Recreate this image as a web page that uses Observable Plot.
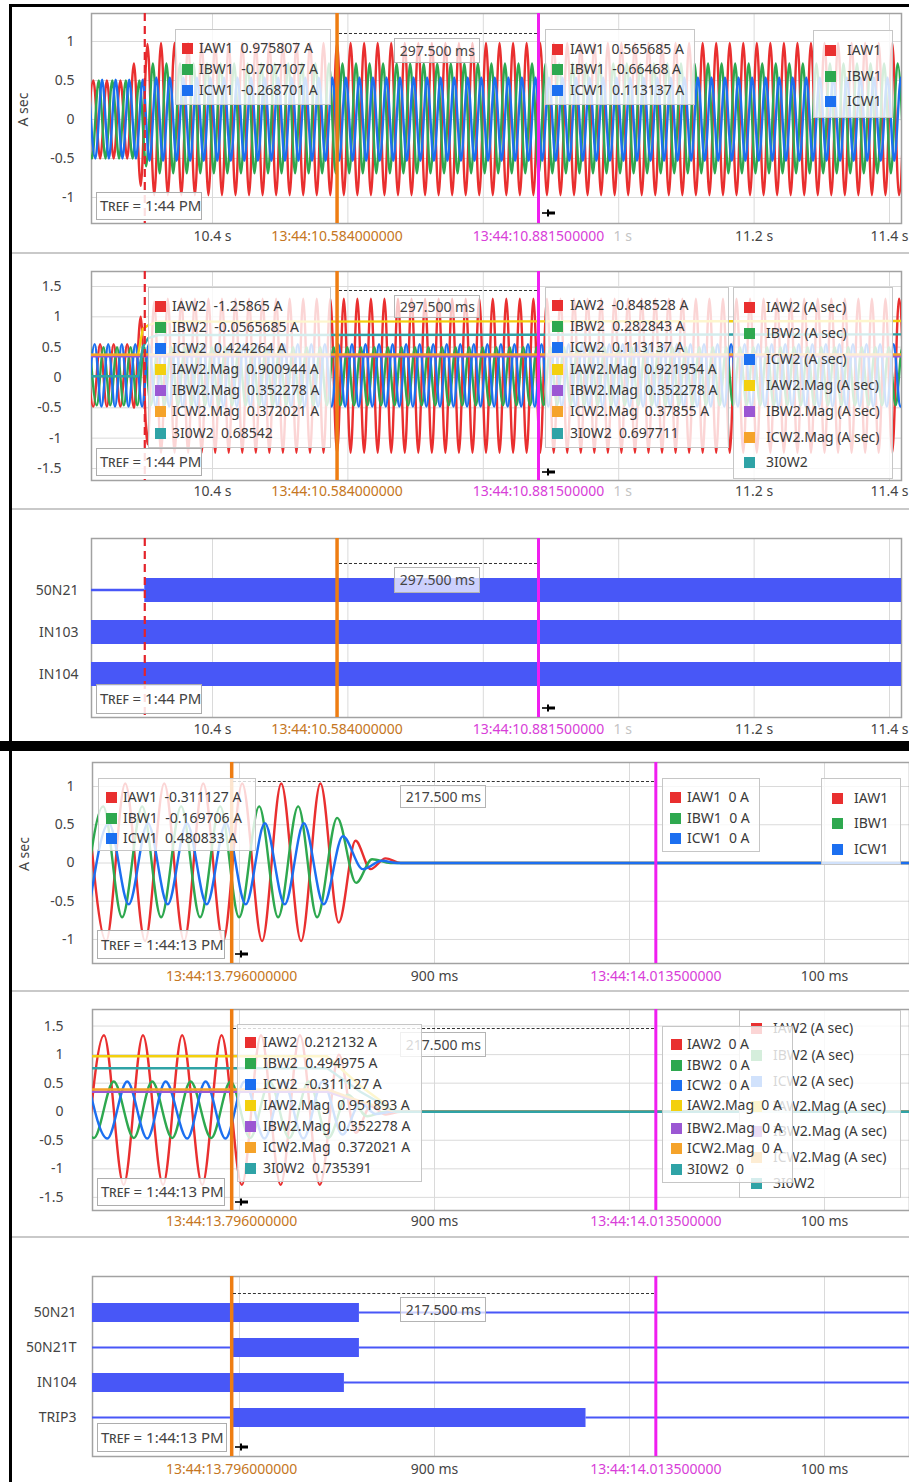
<!DOCTYPE html>
<html>
<head>
<meta charset="utf-8">
<script src="https://cdn.jsdelivr.net/npm/d3@7"></script>
<script src="https://cdn.jsdelivr.net/npm/@observablehq/plot@0.6"></script>
<style>
html,body{margin:0;padding:0;background:#fff;}
#page{position:relative;width:909px;height:1482px;overflow:hidden;background:#fff;font-family:'Noto Sans','Open Sans',sans-serif;color:#3a3a3a;}
#page > svg{position:absolute;left:0;overflow:visible;}
.ov{position:absolute;box-sizing:border-box;}
.lg{background:rgba(255,255,255,0.8);border:1px solid #c6c6c6;}
.sw{position:absolute;width:11px;height:11px;}
.lt{position:absolute;white-space:pre;font-size:14px;line-height:20px;height:20px;color:#3a3a3a;}
.tref{background:rgba(255,255,255,0.85);border:1.5px solid #adadad;font-size:15px;color:#444;white-space:pre;padding-left:3px;}
.meas{background:rgba(255,255,255,0.72);border:1px solid #b4b4b4;font-size:14px;color:#444;text-align:center;white-space:pre;}
.dot{border-top:1px dashed #333;height:0;}
.blk{background:#000;}
.sep{background:#c9c9c9;}
</style>
</head>
<body>
<div id="page"></div>
<script>
// ---------- colours ----------
const FONT = "'Noto Sans','Open Sans',sans-serif";
const C = {red:"#e92f2f", green:"#2ea84f", blue:"#1c6ff0", yellow:"#f3d00e", purple:"#9b57d3", orange:"#f5a32a", teal:"#2fa3a6"};
const CUR = {fault:"#e4232a", orange:"#ee7d12", magenta:"#f01ef0", orangeText:"#c57622", magentaText:"#d83ed8"};
const BAR = "#4857f7";
const GRID = "#dadada";
const FRAME = "#a2a2a2";

// ---------- top record (13:44:10) ----------
const topDomain = [10.2213, 11.4177];
const topGrid = [10.4, 10.6, 10.8, 11.0, 11.2, 11.4];
const topTickLabels = [{t:10.4, label:"10.4 s"}, {t:11.2, label:"11.2 s"}, {t:11.4, label:"11.4 s"}];
const topFadedLabels = [{t:11.0, label:"1 s"}];
const topCursors = [{t:10.584, label:"13:44:10.584000000"}, {t:10.8815, label:"13:44:10.881500000"}];
const topFault = 10.30;

// half-cycle instants (s) of the 50 Hz waveforms, with per-channel lag (s)
const topHalfCycles = [
10.21,10.22,10.23,10.24,10.25,10.26,10.27,10.28,10.29,10.30,
10.31,10.32,10.33,10.34,10.35,10.36,10.37,10.38,10.39,10.40,
10.41,10.42,10.43,10.44,10.45,10.46,10.47,10.48,10.49,10.50,
10.51,10.52,10.53,10.54,10.55,10.56,10.57,10.58,10.59,10.60,
10.61,10.62,10.63,10.64,10.65,10.66,10.67,10.68,10.69,10.70,
10.71,10.72,10.73,10.74,10.75,10.76,10.77,10.78,10.79,10.80,
10.81,10.82,10.83,10.84,10.85,10.86,10.87,10.88,10.89,10.90,
10.91,10.92,10.93,10.94,10.95,10.96,10.97,10.98,10.99,11.00,
11.01,11.02,11.03,11.04,11.05,11.06,11.07,11.08,11.09,11.10,
11.11,11.12,11.13,11.14,11.15,11.16,11.17,11.18,11.19,11.20,
11.21,11.22,11.23,11.24,11.25,11.26,11.27,11.28,11.29,11.30,
11.31,11.32,11.33,11.34,11.35,11.36,11.37,11.38,11.39,11.40,
11.41,11.42];
const topLag = {IAW1:0.004, IBW1:0.002, ICW1:0.007, IAW2:0.004, IBW2:0.009, ICW2:0.006};

// peak values (A sec) at each half cycle
const IAW1_top = [
-0.5,0.5,-0.5,0.5,-0.5,0.5,-0.5,0.72,-0.85,0.97,
-0.97,0.98,-0.97,0.98,-0.97,0.98,-0.97,0.98,-0.97,0.98,
-0.97,0.98,-0.97,0.98,-0.97,0.98,-0.97,0.98,-0.97,0.98,
-0.97,0.98,-0.97,0.98,-0.97,0.98,-0.97,0.98,-0.97,0.98,
-0.97,0.98,-0.97,0.98,-0.97,0.98,-0.97,0.98,-0.97,0.98,
-0.97,0.98,-0.97,0.98,-0.97,0.98,-0.97,0.98,-0.97,0.98,
-0.97,0.98,-0.97,0.98,-0.97,0.98,-0.97,0.98,-0.97,0.98,
-0.97,0.98,-0.97,0.98,-0.97,0.98,-0.97,0.98,-0.97,0.98,
-0.97,0.98,-0.97,0.98,-0.97,0.98,-0.97,0.98,-0.97,0.98,
-0.97,0.98,-0.97,0.98,-0.97,0.98,-0.97,0.98,-0.97,0.98,
-0.97,0.98,-0.97,0.98,-0.97,0.98,-0.97,0.98,-0.97,0.98,
-0.97,0.98,-0.97,0.98,-0.97,0.98,-0.97,0.98,-0.97,0.98,
-0.97,0.98];
const IBW1_top = [
0.5,-0.5,0.5,-0.5,0.5,-0.5,0.5,-0.5,0.5,-0.6,
0.72,-0.69,0.72,-0.69,0.72,-0.69,0.72,-0.69,0.72,-0.69,
0.72,-0.69,0.72,-0.69,0.72,-0.69,0.72,-0.69,0.72,-0.69,
0.72,-0.69,0.72,-0.69,0.72,-0.69,0.72,-0.69,0.72,-0.69,
0.72,-0.69,0.72,-0.69,0.72,-0.69,0.72,-0.69,0.72,-0.69,
0.72,-0.69,0.72,-0.69,0.72,-0.69,0.72,-0.69,0.72,-0.69,
0.72,-0.69,0.72,-0.69,0.72,-0.69,0.72,-0.69,0.72,-0.69,
0.72,-0.69,0.72,-0.69,0.72,-0.69,0.72,-0.69,0.72,-0.69,
0.72,-0.69,0.72,-0.69,0.72,-0.69,0.72,-0.69,0.72,-0.69,
0.72,-0.69,0.72,-0.69,0.72,-0.69,0.72,-0.69,0.72,-0.69,
0.72,-0.69,0.72,-0.69,0.72,-0.69,0.72,-0.69,0.72,-0.69,
0.72,-0.69,0.72,-0.69,0.72,-0.69,0.72,-0.69,0.72,-0.69,
0.72,-0.69];
const ICW1_top = [
0.51,-0.5,0.51,-0.5,0.51,-0.5,0.51,-0.5,0.51,-0.53,
0.54,-0.53,0.54,-0.53,0.54,-0.53,0.54,-0.53,0.54,-0.53,
0.54,-0.53,0.54,-0.53,0.54,-0.53,0.54,-0.53,0.54,-0.53,
0.54,-0.53,0.54,-0.53,0.54,-0.53,0.54,-0.53,0.54,-0.53,
0.54,-0.53,0.54,-0.53,0.54,-0.53,0.54,-0.53,0.54,-0.53,
0.54,-0.53,0.54,-0.53,0.54,-0.53,0.54,-0.53,0.54,-0.53,
0.54,-0.53,0.54,-0.53,0.54,-0.53,0.54,-0.53,0.54,-0.53,
0.54,-0.53,0.54,-0.53,0.54,-0.53,0.54,-0.53,0.54,-0.53,
0.54,-0.53,0.54,-0.53,0.54,-0.53,0.54,-0.53,0.54,-0.53,
0.54,-0.53,0.54,-0.53,0.54,-0.53,0.54,-0.53,0.54,-0.53,
0.54,-0.53,0.54,-0.53,0.54,-0.53,0.54,-0.53,0.54,-0.53,
0.54,-0.53,0.54,-0.53,0.54,-0.53,0.54,-0.53,0.54,-0.53,
0.54,-0.53];
const IAW2_top = [
0.55,-0.48,0.55,-0.48,0.55,-0.48,0.55,-0.5,1.0,-1.1,
1.25,-1.24,1.3,-1.24,1.3,-1.24,1.3,-1.24,1.3,-1.24,
1.3,-1.24,1.3,-1.24,1.3,-1.24,1.3,-1.24,1.3,-1.24,
1.3,-1.24,1.3,-1.24,1.3,-1.24,1.3,-1.24,1.3,-1.24,
1.3,-1.24,1.3,-1.24,1.3,-1.24,1.3,-1.24,1.3,-1.24,
1.3,-1.24,1.3,-1.24,1.3,-1.24,1.3,-1.24,1.3,-1.24,
1.3,-1.24,1.3,-1.24,1.3,-1.24,1.3,-1.24,1.3,-1.24,
1.3,-1.24,1.3,-1.24,1.3,-1.24,1.3,-1.24,1.3,-1.24,
1.3,-1.24,1.3,-1.24,1.3,-1.24,1.3,-1.24,1.3,-1.24,
1.3,-1.24,1.3,-1.24,1.3,-1.24,1.3,-1.24,1.3,-1.24,
1.3,-1.24,1.3,-1.24,1.3,-1.24,1.3,-1.24,1.3,-1.24,
1.3,-1.24,1.3,-1.24,1.3,-1.24,1.3,-1.24,1.3,-1.24,
1.3,-1.24];
const IBW2_top = [
0.5,-0.46,0.5,-0.46,0.5,-0.46,0.5,-0.46,0.5,-0.46,
0.5,-0.46,0.5,-0.46,0.5,-0.46,0.5,-0.46,0.5,-0.46,
0.5,-0.46,0.5,-0.46,0.5,-0.46,0.5,-0.46,0.5,-0.46,
0.5,-0.46,0.5,-0.46,0.5,-0.46,0.5,-0.46,0.5,-0.46,
0.5,-0.46,0.5,-0.46,0.5,-0.46,0.5,-0.46,0.5,-0.46,
0.5,-0.46,0.5,-0.46,0.5,-0.46,0.5,-0.46,0.5,-0.46,
0.5,-0.46,0.5,-0.46,0.5,-0.46,0.5,-0.46,0.5,-0.46,
0.5,-0.46,0.5,-0.46,0.5,-0.46,0.5,-0.46,0.5,-0.46,
0.5,-0.46,0.5,-0.46,0.5,-0.46,0.5,-0.46,0.5,-0.46,
0.5,-0.46,0.5,-0.46,0.5,-0.46,0.5,-0.46,0.5,-0.46,
0.5,-0.46,0.5,-0.46,0.5,-0.46,0.5,-0.46,0.5,-0.46,
0.5,-0.46,0.5,-0.46,0.5,-0.46,0.5,-0.46,0.5,-0.46,
0.5,-0.46];
const ICW2_top = [
-0.48,0.55,-0.48,0.55,-0.48,0.55,-0.48,0.55,-0.48,0.55,
-0.48,0.55,-0.48,0.55,-0.48,0.55,-0.48,0.55,-0.48,0.55,
-0.48,0.55,-0.48,0.55,-0.48,0.55,-0.48,0.55,-0.48,0.55,
-0.48,0.55,-0.48,0.55,-0.48,0.55,-0.48,0.55,-0.48,0.55,
-0.48,0.55,-0.48,0.55,-0.48,0.55,-0.48,0.55,-0.48,0.55,
-0.48,0.55,-0.48,0.55,-0.48,0.55,-0.48,0.55,-0.48,0.55,
-0.48,0.55,-0.48,0.55,-0.48,0.55,-0.48,0.55,-0.48,0.55,
-0.48,0.55,-0.48,0.55,-0.48,0.55,-0.48,0.55,-0.48,0.55,
-0.48,0.55,-0.48,0.55,-0.48,0.55,-0.48,0.55,-0.48,0.55,
-0.48,0.55,-0.48,0.55,-0.48,0.55,-0.48,0.55,-0.48,0.55,
-0.48,0.55,-0.48,0.55,-0.48,0.55,-0.48,0.55,-0.48,0.55,
-0.48,0.55,-0.48,0.55,-0.48,0.55,-0.48,0.55,-0.48,0.55,
-0.48,0.55];
// magnitudes (top record, winding 2)
const magTimesTop = [10.20, 10.29, 10.297, 10.305, 10.32, 11.43];
const IAW2Mag_top = [0.37, 0.37, 0.8, 0.86, 0.92, 0.93];
const IBW2Mag_top = [0.35, 0.35, 0.35, 0.35, 0.35, 0.35];
const ICW2Mag_top = [0.375, 0.375, 0.38, 0.38, 0.378, 0.378];
const I0W2_top = [0.02, 0.02, 0.5, 0.65, 0.70, 0.71];
// digital channels (top record)
const digRowsTop = ["50N21", "IN103", "IN104"];
const digTop = [
  {sig:"50N21", start:10.20, end:10.30, on:0},
  {sig:"50N21", start:10.30, end:11.43, on:1},
  {sig:"IN103", start:10.20, end:11.43, on:1},
  {sig:"IN104", start:10.20, end:11.43, on:1}
];

// ---------- bottom record (13:44:13) ----------
const botDomain = [13.72462, 14.14359];
const botGrid = [13.8, 13.9, 14.0, 14.1];
const botTickLabels = [{t:13.9, label:"900 ms"}, {t:14.1, label:"100 ms"}];
const botCursors = [{t:13.796, label:"13:44:13.796000000"}, {t:14.0135, label:"13:44:14.013500000"}];

// extrema of winding-1 currents (time s, value A sec)
const IAW1_t = [13.7214,13.7316,13.7414,13.7516,13.7614,13.7716,13.7814,13.7916,13.8014,13.8116,13.8214,13.8316,13.8415,13.8509,13.8595,13.8672,13.8749,13.8826,14.16];
const IAW1_v = [1.04,-1.02,1.04,-1.02,1.04,-1.02,1.04,-1.02,1.04,-1.02,1.04,-1.02,1.04,-0.78,0.29,-0.08,0.06,0,0];
const IBW1_t = [13.7198,13.7301,13.7398,13.7501,13.7598,13.7701,13.7798,13.7901,13.7998,13.8101,13.8198,13.8301,13.8398,13.8501,13.8598,13.8680,13.8774,14.16];
const IBW1_v = [-0.71,0.74,-0.71,0.74,-0.71,0.74,-0.71,0.74,-0.71,0.74,-0.71,0.74,-0.71,0.59,-0.26,0.05,0,0];
const ICW1_t = [13.7232,13.7330,13.7432,13.7530,13.7632,13.7730,13.7832,13.7930,13.8032,13.8130,13.8232,13.8330,13.8432,13.8530,13.8632,13.8730,13.8809,14.16];
const ICW1_v = [-0.54,0.52,-0.54,0.52,-0.54,0.52,-0.54,0.52,-0.54,0.52,-0.54,0.52,-0.54,0.35,-0.08,0.03,0,0];
// extrema of winding-2 currents
const IAW2_t = [13.7205,13.7305,13.7406,13.7505,13.7608,13.7706,13.7809,13.7908,13.8012,13.8110,13.8211,13.8310,13.8412,13.8510,13.8596,13.8672,13.8750,13.8826,14.16];
const IAW2_v = [-1.28,1.34,-1.28,1.34,-1.28,1.34,-1.28,1.34,-1.28,1.34,-1.28,1.34,-1.28,1.0,-0.37,0.1,-0.05,0,0];
const IBW2_t = [13.7153,13.7253,13.7355,13.7458,13.7552,13.7655,13.7749,13.7855,13.7954,13.8055,13.8155,13.8255,13.8355,13.8455,13.8555,13.8655,13.8750,14.16];
const IBW2_v = [0.53,-0.46,0.53,-0.46,0.53,-0.46,0.53,-0.46,0.53,-0.46,0.53,-0.46,0.53,-0.46,0.3,-0.08,0,0];
const ICW2_t = [13.7222,13.7322,13.7424,13.7527,13.7621,13.7732,13.7826,13.7928,13.8026,13.8128,13.8226,13.8328,13.8426,13.8528,13.8620,13.8700,13.8780,14.16];
const ICW2_v = [0.53,-0.47,0.53,-0.47,0.53,-0.47,0.53,-0.47,0.53,-0.47,0.53,-0.47,0.53,-0.4,0.15,-0.04,0,0];
const magTimesBot = [13.70, 13.845, 13.862, 13.88, 14.16];
const IAW2Mag_bot = [0.97, 0.97, 0.45, 0, 0];
const IBW2Mag_bot = [0.35, 0.35, 0.16, 0, 0];
const ICW2Mag_bot = [0.39, 0.39, 0.18, 0, 0];
const I0W2_bot = [0.76, 0.76, 0.35, 0, 0];
const digRowsBot = ["50N21", "50N21T", "IN104", "TRIP3"];
const digBot = [
  {sig:"50N21", start:13.70, end:13.8615, on:1},
  {sig:"50N21", start:13.8615, end:14.16, on:0},
  {sig:"50N21T", start:13.70, end:13.7965, on:0},
  {sig:"50N21T", start:13.7965, end:13.8615, on:1},
  {sig:"50N21T", start:13.8615, end:14.16, on:0},
  {sig:"IN104", start:13.70, end:13.8538, on:1},
  {sig:"IN104", start:13.8538, end:14.16, on:0},
  {sig:"TRIP3", start:13.70, end:13.7965, on:0},
  {sig:"TRIP3", start:13.7965, end:13.9777, on:1},
  {sig:"TRIP3", start:13.9777, end:14.16, on:0}
];

// legend texts
const names1 = ["IAW1", "IBW1", "ICW1"];
const leg1A = ["IAW1  0.975807 A", "IBW1  -0.707107 A", "ICW1  -0.268701 A"];
const leg1B = ["IAW1  0.565685 A", "IBW1  -0.66468 A", "ICW1  0.113137 A"];
const leg2A = ["IAW2  -1.25865 A", "IBW2  -0.0565685 A", "ICW2  0.424264 A", "IAW2.Mag  0.900944 A", "IBW2.Mag  0.352278 A", "ICW2.Mag  0.372021 A", "3I0W2  0.68542"];
const leg2B = ["IAW2  -0.848528 A", "IBW2  0.282843 A", "ICW2  0.113137 A", "IAW2.Mag  0.921954 A", "IBW2.Mag  0.352278 A", "ICW2.Mag  0.37855 A", "3I0W2  0.697711"];
const names2 = ["IAW2 (A sec)", "IBW2 (A sec)", "ICW2 (A sec)", "IAW2.Mag (A sec)", "IBW2.Mag (A sec)", "ICW2.Mag (A sec)", "3I0W2"];
const leg4A = ["IAW1  -0.311127 A", "IBW1  -0.169706 A", "ICW1  0.480833 A"];
const leg4B = ["IAW1  0 A", "IBW1  0 A", "ICW1  0 A"];
const leg5A = ["IAW2  0.212132 A", "IBW2  0.494975 A", "ICW2  -0.311127 A", "IAW2.Mag  0.951893 A", "IBW2.Mag  0.352278 A", "ICW2.Mag  0.372021 A", "3I0W2  0.735391"];
const leg5B = ["IAW2  0 A", "IBW2  0 A", "ICW2  0 A", "IAW2.Mag  0 A", "IBW2.Mag  0 A", "ICW2.Mag  0 A", "3I0W2  0"];
const cols3 = [C.red, C.green, C.blue];
const cols7 = [C.red, C.green, C.blue, C.yellow, C.purple, C.orange, C.teal];

// ---------- helpers ----------
const page = document.getElementById("page");
const pairs = (times, values, lag = 0) => times.map((t, i) => ({t: t + lag, v: values[i]}));
const wave = (rows, color) => Plot.line(rows, {x:"t", y:"v", stroke:color, strokeWidth:2.4, curve:"monotone-x", clip:true});
const magLine = (rows, color) => Plot.line(rows, {x:"t", y:"v", stroke:color, strokeWidth:2.4, clip:true});

function addPlot(top, opts) {
  const p = Plot.plot({width: 909, ...opts, style: {fontFamily: FONT, fontSize: "14px", background: "transparent", overflow: "visible"}});
  p.style.top = top + "px";
  page.appendChild(p);
  return p;
}
function xMarks(labels, faded, cursors, dy) {
  const m = [Plot.text(labels, {x:"t", text:"label", frameAnchor:"bottom", dy, fill:"#444", fontSize:14})];
  if (faded) m.push(Plot.text(faded, {x:"t", text:"label", frameAnchor:"bottom", dy, dx:4, fill:"#c4c4c4", fontSize:14}));
  m.push(Plot.text([cursors[0]], {x:"t", text:"label", frameAnchor:"bottom", dy, fill:CUR.orangeText, fontSize:14}));
  m.push(Plot.text([cursors[1]], {x:"t", text:"label", frameAnchor:"bottom", dy, fill:CUR.magentaText, fontSize:14}));
  return m;
}
function cursorMarks(cursors, fault) {
  const m = [];
  if (fault != null) m.push(Plot.ruleX([fault], {stroke:CUR.fault, strokeWidth:2.2, strokeDasharray:"8,5"}));
  m.push(Plot.ruleX([cursors[0].t], {stroke:CUR.orange, strokeWidth:3.5}));
  m.push(Plot.ruleX([cursors[1].t], {stroke:CUR.magenta, strokeWidth:3}));
  return m;
}
function yMarks(ticks, dx, label) {
  const m = [Plot.text(ticks, {y:d => d, text:d => String(d), frameAnchor:"left", textAnchor:"end", dx, fill:"#444", fontSize:14})];
  if (label) m.push(Plot.text([label], {text:d => d, frameAnchor:"left", dx:-68, dy:8, rotate:-90, fill:"#444", fontSize:14}));
  return m;
}
function el(cls, x, y, w, h, html) {
  const d = document.createElement("div");
  d.className = "ov " + cls;
  d.style.left = x + "px"; d.style.top = y + "px";
  if (w != null) d.style.width = w + "px";
  if (h != null) d.style.height = h + "px";
  if (html != null) d.innerHTML = html;
  page.appendChild(d);
  return d;
}
function legend(box, swX, txX, rowYs, colors, labels) {
  const [x, y, w, h] = box;
  const d = el("lg", x, y, w, h);
  labels.forEach((lab, i) => {
    const s = document.createElement("div");
    s.className = "sw";
    s.style.left = (swX - x - 1) + "px";
    s.style.top = (rowYs[i] - y - 1 - 5.5) + "px";
    s.style.background = colors[i];
    d.appendChild(s);
    const t = document.createElement("div");
    t.className = "lt";
    t.style.left = (txX - x - 1) + "px";
    t.style.top = (rowYs[i] - y - 1 - 10) + "px";
    t.textContent = lab;
    d.appendChild(t);
  });
}
function tref(x, y, w, h, time) {
  const d = el("tref", x, y, w, h, '<span style="font-variant:small-caps">Tref</span> = ' + time);
  d.style.lineHeight = (h - 3) + "px";
}
function measure(plot, cursors, lineY, boxY, boxH, label) {
  const sx = plot.scale("x");
  const a = sx.apply(cursors[0].t), b = sx.apply(cursors[1].t);
  el("dot", a + 2, lineY, b - a - 3, 0);
  const d = el("meas", (a + b) / 2 - 43, boxY, 86, boxH, label);
  d.style.lineHeight = (boxH - 2) + "px";
}
function pin(plot, t, y) {
  const x = plot.scale("x").apply(t) + 4;
  el("", x, y - 4, 14, 8, '<svg width="14" height="8" style="display:block"><path d="M0 4H6" stroke="#000" stroke-width="1.6"/><path d="M5 0.5H7V2.5H13V5.5H7V7.5H5Z" fill="#000"/></svg>');
}

// ---------- panel 1 ----------
const yT1 = [1, 0.5, 0, -0.5, -1];
const p1 = addPlot(0, {
  height: 253, marginTop: 13, marginBottom: 30, marginLeft: 91, marginRight: 8,
  x: {domain: topDomain, axis: null},
  y: {domain: [-1.333, 1.359], axis: null},
  marks: [
    Plot.ruleX(topGrid, {stroke: GRID}),
    Plot.ruleY(yT1, {stroke: GRID}),
    Plot.frame({stroke: FRAME, strokeWidth: 1.5}),
    wave(pairs(topHalfCycles, IAW1_top, topLag.IAW1), C.red),
    wave(pairs(topHalfCycles, IBW1_top, topLag.IBW1), C.green),
    wave(pairs(topHalfCycles, ICW1_top, topLag.ICW1), C.blue),
    ...cursorMarks(topCursors, topFault),
    ...yMarks(yT1, -17, "A sec"),
    ...xMarks(topTickLabels, topFadedLabels, topCursors, 17)
  ]
});

// ---------- panel 2 ----------
const yT2 = [1.5, 1, 0.5, 0, -0.5, -1, -1.5];
const p2 = addPlot(256, {
  height: 252, marginTop: 15, marginBottom: 28, marginLeft: 91, marginRight: 8,
  x: {domain: topDomain, axis: null},
  y: {domain: [-1.698, 1.747], axis: null},
  marks: [
    Plot.ruleX(topGrid, {stroke: GRID}),
    Plot.ruleY(yT2, {stroke: GRID}),
    Plot.frame({stroke: FRAME, strokeWidth: 1.5}),
    wave(pairs(topHalfCycles, IAW2_top, topLag.IAW2), C.red),
    wave(pairs(topHalfCycles, IBW2_top, topLag.IBW2), C.green),
    wave(pairs(topHalfCycles, ICW2_top, topLag.ICW2), C.blue),
    magLine(pairs(magTimesTop, IAW2Mag_top), C.yellow),
    magLine(pairs(magTimesTop, IBW2Mag_top), C.purple),
    magLine(pairs(magTimesTop, ICW2Mag_top), C.orange),
    magLine(pairs(magTimesTop, I0W2_top), C.teal),
    ...cursorMarks(topCursors, topFault),
    ...yMarks(yT2, -30),
    ...xMarks(topTickLabels, topFadedLabels, topCursors, 15)
  ]
});

// ---------- panel 3 ----------
const p3 = addPlot(510, {
  height: 232, marginTop: 28, marginBottom: 25, marginLeft: 91, marginRight: 8,
  x: {domain: topDomain, axis: null},
  y: {type: "band", domain: digRowsTop, paddingInner: 0.435, paddingOuter: 0.823, align: 0.557, axis: null},
  marks: [
    Plot.ruleX(topGrid, {stroke: GRID}),
    Plot.frame({stroke: FRAME, strokeWidth: 1.5}),
    Plot.barX(digTop.filter(d => d.on), {x1:"start", x2:"end", y:"sig", fill:BAR, clip:true}),
    Plot.barX(digTop.filter(d => !d.on), {x1:"start", x2:"end", y:"sig", fill:BAR, insetTop:10.75, insetBottom:10.75, clip:true}),
    Plot.text(digRowsTop, {y:d => d, text:d => d, frameAnchor:"left", textAnchor:"end", dx:-13, fill:"#444", fontSize:14}),
    ...cursorMarks(topCursors, topFault),
    ...xMarks(topTickLabels, topFadedLabels, topCursors, 16)
  ]
});

// ---------- panel 4 ----------
const yT4 = [1, 0.5, 0, -0.5, -1];
const p4 = addPlot(748, {
  height: 245, marginTop: 14, marginBottom: 30, marginLeft: 92, marginRight: 0,
  x: {domain: botDomain, axis: null},
  y: {domain: [-1.314, 1.314], axis: null},
  marks: [
    Plot.ruleX(botGrid, {stroke: GRID}),
    Plot.ruleY(yT4, {stroke: GRID}),
    Plot.frame({stroke: FRAME, strokeWidth: 1.5}),
    wave(pairs(IAW1_t, IAW1_v), C.red),
    wave(pairs(IBW1_t, IBW1_v), C.green),
    wave(pairs(ICW1_t, ICW1_v), C.blue),
    ...cursorMarks(botCursors),
    ...yMarks(yT4, -18, "A sec"),
    ...xMarks(botTickLabels, null, botCursors, 17)
  ]
});

// ---------- panel 5 ----------
const yT5 = [1.5, 1, 0.5, 0, -0.5, -1, -1.5];
const p5 = addPlot(993, {
  height: 245, marginTop: 16, marginBottom: 28, marginLeft: 92, marginRight: 0,
  x: {domain: botDomain, axis: null},
  y: {domain: [-1.73, 1.79], axis: null},
  marks: [
    Plot.ruleX(botGrid, {stroke: GRID}),
    Plot.ruleY(yT5, {stroke: GRID}),
    Plot.frame({stroke: FRAME, strokeWidth: 1.5}),
    wave(pairs(IAW2_t, IAW2_v), C.red),
    wave(pairs(IBW2_t, IBW2_v), C.green),
    wave(pairs(ICW2_t, ICW2_v), C.blue),
    magLine(pairs(magTimesBot, IAW2Mag_bot), C.yellow),
    magLine(pairs(magTimesBot, IBW2Mag_bot), C.purple),
    magLine(pairs(magTimesBot, ICW2Mag_bot), C.orange),
    magLine(pairs(magTimesBot, I0W2_bot), C.teal),
    ...cursorMarks(botCursors),
    ...yMarks(yT5, -29),
    ...xMarks(botTickLabels, null, botCursors, 15)
  ]
});

// ---------- panel 6 ----------
const p6 = addPlot(1238, {
  height: 244, marginTop: 38, marginBottom: 26, marginLeft: 92, marginRight: 0,
  x: {domain: botDomain, axis: null},
  y: {type: "band", domain: digRowsBot, paddingInner: 0.453, paddingOuter: 0.75, align: 0.49, axis: null},
  marks: [
    Plot.ruleX(botGrid, {stroke: GRID}),
    Plot.frame({stroke: FRAME, strokeWidth: 1.5}),
    Plot.barX(digBot.filter(d => d.on), {x1:"start", x2:"end", y:"sig", fill:BAR, clip:true}),
    Plot.barX(digBot.filter(d => !d.on), {x1:"start", x2:"end", y:"sig", fill:BAR, insetTop:8.5, insetBottom:8.5, clip:true}),
    Plot.text(digRowsBot, {y:d => d, text:d => d, frameAnchor:"left", textAnchor:"end", dx:-16, fill:"#444", fontSize:14}),
    ...cursorMarks(botCursors),
    ...xMarks(botTickLabels, null, botCursors, 17)
  ]
});

// ---------- overlays: measurement labels, legends, reference-time boxes, pins ----------
measure(p1, topCursors, 33, 38, 25, "297.500 ms");
legend([175, 29, 156, 76], 182, 199, [48, 69, 90], cols3, leg1A);
legend([545, 29, 150, 76], 552, 570, [49, 69, 90], cols3, leg1B);
legend([813, 30, 80, 88], 825, 847, [50, 76, 101], cols3, names1);
tref(96, 192, 106, 28, "1:44 PM");
pin(p1, topCursors[1].t, 213);

measure(p2, topCursors, 290, 295, 23, "297.500 ms");
legend([148, 287, 183, 161], 155, 172, [306, 327, 348, 369, 390, 411, 433], cols7, leg2A);
legend([545, 287, 184, 161], 552, 570, [305, 326, 347, 369, 390, 411, 433], cols7, leg2B);
legend([733, 287, 160, 192], 744, 766, [307, 333, 359, 385, 411, 437, 462], cols7, names2);
tref(96, 448, 106, 28, "1:44 PM");
pin(p2, topCursors[1].t, 472);

measure(p3, topCursors, 563, 567, 26, "297.500 ms");
tref(96, 684, 106, 30, "1:44 PM");
pin(p3, topCursors[1].t, 708);

measure(p4, botCursors, 781, 785, 23, "217.500 ms");
legend([98, 778, 158, 73], 106, 123, [797, 818, 838], cols3, leg4A);
legend([662, 778, 98, 74], 670, 687, [797, 818, 838], cols3, leg4B);
legend([821, 778, 80, 87], 832, 854, [798, 823, 849], cols3, names1);
tref(97, 930, 128, 29, "1:44:13 PM");
pin(p4, botCursors[0].t, 954);

measure(p5, botCursors, 1028, 1032, 25, "217.500 ms");
legend([237, 1024, 185, 158], 245, 263, [1042, 1063, 1084, 1105, 1126, 1147, 1168], cols7, leg5A);
legend([739, 1010, 162, 188], 751, 773, [1028, 1055, 1081, 1106, 1131, 1157, 1183], cols7, names2);
legend([662, 1026, 131, 157], 671, 687, [1044, 1065, 1085, 1105, 1128, 1148, 1169], cols7, leg5B);
tref(97, 1178, 128, 28, "1:44:13 PM");
pin(p5, botCursors[0].t, 1202);

measure(p6, botCursors, 1293, 1297, 25, "217.500 ms");
tref(97, 1423, 130, 29, "1:44:13 PM");
pin(p6, botCursors[0].t, 1447);

// ---------- screenshot frames ----------
el("blk", 9, 4, 900, 3);
el("blk", 9, 4, 3, 740);
el("sep", 12, 252, 897, 2);
el("sep", 12, 508, 897, 2);
el("blk", 0, 741, 909, 10);
el("blk", 9, 748, 3, 734);
el("sep", 12, 990, 897, 2);
el("sep", 12, 1236, 897, 2);
</script>
</body>
</html>
